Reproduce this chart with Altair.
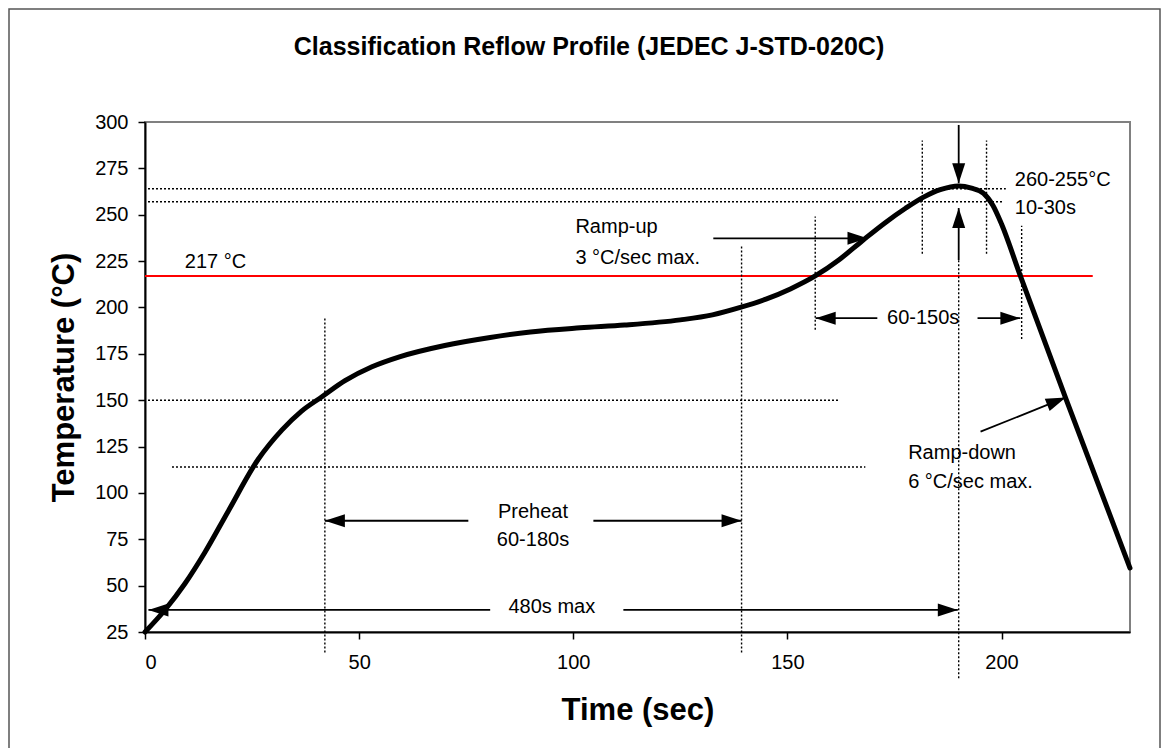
import altair as alt
import pandas as pd

# ---- data ----
curve_t = [0, 4.7, 9.3, 14, 19.4, 26.4, 32, 36.5, 41.4, 46.7, 53, 59.6, 70, 80.6, 90, 101.6, 112,
           125, 132.5, 139, 145, 150.7, 156.5, 162, 167.5, 173, 177.6, 181.8, 185.7, 190, 193,
           195.8, 198, 200, 204.4, 215, 230]
curve_T = [25, 37, 51, 68, 90, 118, 134, 144, 152, 160.5, 168, 173.5, 179.5, 183.8, 186.8, 189,
           190.5, 193.3, 196, 200, 204.5, 210, 217, 225.6, 236, 246, 253.5, 259.5, 263.5, 265.5,
           264.3, 261.5, 255, 245, 217, 151, 59.5]

liquidus_T = 217
liquidus_t = [0, 221.3]

# horizontal dotted guides
hdot_T = [264, 257, 150, 114]
hdot_t1 = [0.7, 0.7, 0.7, 6.3]
hdot_t2 = [201, 200.5, 162, 168.2]

# vertical dotted guides
vdot_t = [42, 139.3, 156.5, 181.5, 196.5, 190, 204.7]
vdot_T1 = [14, 14, 188, 229, 229, 0, 183]
vdot_T2 = [194, 233, 249, 290, 290, 225.6, 244]

# arrows: shaft start -> tip
arrow_t1 = [190, 190, 132.7, 171, 194.4, 195.1, 75.5, 104.7, 80.6, 111.7]
arrow_T1 = [298.4, 225.6, 237.3, 194.2, 194.2, 133, 85, 85, 36.9, 36.9]
arrow_t2 = [190, 190, 168.7, 156.6, 204.4, 215, 42, 139.3, 0.8, 189.8]
arrow_T2 = [267, 253.6, 237.3, 194.2, 194.2, 151.5, 85, 85, 36.9, 36.9]
arrow_angle = [90, 270, 0, 180, 0, 338, 180, 0, 180, 0]

# annotations
left_text = ["217 °C", "Ramp-up", "3 °C/sec max.", "260-255°C", "10-30s", "Ramp-down", "6 °C/sec max."]
left_t = [9.3, 100.5, 100.5, 203.1, 203.1, 178.2, 178.2]
left_T = [224.5, 243.4, 226.5, 268.7, 253.4, 121.4, 105.7]

center_text = ["60-150s", "Preheat", "60-180s", "480s max"]
center_t = [181.7, 90.6, 90.6, 95]
center_T = [194.3, 89.7, 74.5, 38.5]

title_text = "Classification Reflow Profile (JEDEC J-STD-020C)"
x_ticks = [0, 50, 100, 150, 200]
y_ticks = [25, 50, 75, 100, 125, 150, 175, 200, 225, 250, 275, 300]

FONT = "Liberation Sans"
W, H = 985, 510

xs = alt.Scale(domain=[0, 230], nice=False, zero=False)
ys = alt.Scale(domain=[25, 300], nice=False, zero=False)

x_axis = alt.Axis(values=x_ticks, title="Time (sec)", grid=False, labelFont=FONT, labelFontSize=20,
                  labelColor="black", labelPadding=13, tickColor="black", tickSize=7, tickWidth=1.5,
                  domainColor="black", domainWidth=2, titleFont=FONT, titleFontSize=31,
                  titleFontWeight="bold", titleColor="black", titleX=W / 2, titleY=78,
                  titleBaseline="middle", titleAlign="center")
y_axis = alt.Axis(values=y_ticks, title="Temperature (°C)", grid=False, labelFont=FONT, labelFontSize=20,
                  labelColor="black", labelPadding=10, tickColor="black", tickSize=7, tickWidth=1.5,
                  domainColor="black", domainWidth=2, titleFont=FONT, titleFontSize=31,
                  titleFontWeight="bold", titleColor="black", titleX=-81, titleY=H / 2,
                  titleAngle=270, titleBaseline="middle", titleAlign="center")

curve_df = pd.DataFrame({"t": curve_t, "T": curve_T})
red_df = pd.DataFrame({"t": [liquidus_t[0]], "t2": [liquidus_t[1]], "T": [liquidus_T]})
hdot_df = pd.DataFrame({"t": hdot_t1, "t2": hdot_t2, "T": hdot_T})
vdot_df = pd.DataFrame({"t": vdot_t, "T": vdot_T1, "T2": vdot_T2})
arr_df = pd.DataFrame({"t": arrow_t1, "T": arrow_T1, "t2": arrow_t2, "T2": arrow_T2, "ang": arrow_angle})
ltxt_df = pd.DataFrame({"text": left_text, "t": left_t, "T": left_T})
ctxt_df = pd.DataFrame({"text": center_text, "t": center_t, "T": center_T})

base_x = alt.X("t:Q", scale=xs, axis=x_axis)
base_y = alt.Y("T:Q", scale=ys, axis=y_axis)

frame = alt.Chart(pd.DataFrame({"a": [0]})).mark_rect(
    fillOpacity=0, stroke="#555555", strokeWidth=1.5
).encode(x=alt.value(-136), x2=alt.value(1015), y=alt.value(-113), y2=alt.value(640))

red = alt.Chart(red_df).mark_rule(color="#ff0000", strokeWidth=2).encode(
    x=base_x, x2="t2:Q", y=base_y)

hdot = alt.Chart(hdot_df).mark_rule(color="black", strokeWidth=1.4, strokeDash=[2, 2]).encode(
    x=base_x, x2="t2:Q", y=base_y)

vdot = alt.Chart(vdot_df).mark_rule(color="black", strokeWidth=1.4, strokeDash=[2, 2]).encode(
    x=base_x, y=base_y, y2="T2:Q")

curve = alt.Chart(curve_df).mark_line(color="black", strokeWidth=5, interpolate="monotone",
                                       strokeCap="round").encode(x=base_x, y=base_y)

shafts = alt.Chart(arr_df).mark_rule(color="black", strokeWidth=1.8).encode(
    x=base_x, y=base_y, x2="t2:Q", y2="T2:Q")

heads = alt.Chart(arr_df).mark_point(
    shape="M0,0L-2,-0.65L-2,0.65Z", filled=True, color="black", opacity=1, size=400
).encode(x=alt.X("t2:Q", scale=xs, axis=x_axis), y=alt.Y("T2:Q", scale=ys, axis=y_axis),
         angle=alt.Angle("ang:Q", scale=None))

ltxt = alt.Chart(ltxt_df).mark_text(align="left", baseline="middle", font=FONT, fontSize=20,
                                     color="black").encode(x=base_x, y=base_y, text="text:N")
ctxt = alt.Chart(ctxt_df).mark_text(align="center", baseline="middle", font=FONT, fontSize=20,
                                     color="black").encode(x=base_x, y=base_y, text="text:N")

title = alt.Chart(pd.DataFrame({"text": [title_text]})).mark_text(
    align="center", baseline="alphabetic", font=FONT, fontSize=25, fontWeight="bold", color="black"
).encode(x=alt.value(444), y=alt.value(-67), text="text:N")

chart = alt.layer(frame, red, hdot, vdot, curve, shafts, heads, ltxt, ctxt, title).properties(
    width=W, height=H,
    autosize=alt.AutoSizeParams(type="none"),
    padding={"left": 137, "top": 114, "right": 32, "bottom": 116},
    background="white",
).configure_view(stroke="#808080", strokeWidth=2)

chart.save("out.html", embed_options={"renderer": "svg", "actions": False})
